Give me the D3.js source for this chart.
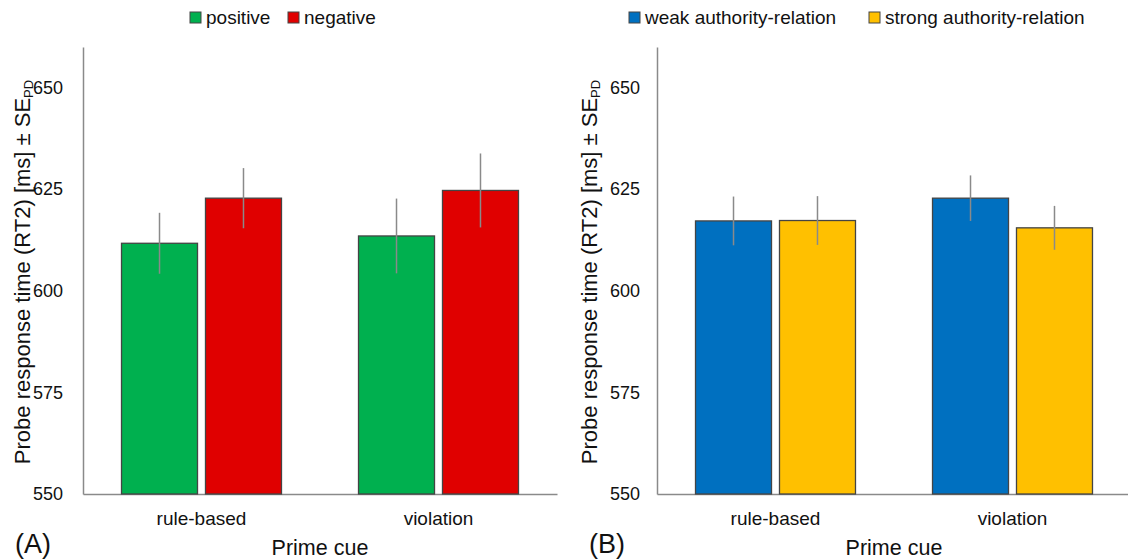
<!DOCTYPE html>
<html>
<head>
<meta charset="utf-8">
<script src="https://cdn.jsdelivr.net/npm/d3@7"></script>
<style>
  body { margin: 0; background: #fff; }
  svg text { font-family: "Liberation Sans", Arial, Helvetica, sans-serif; fill: #111; }
</style>
</head>
<body>
<svg id="chart" width="1128" height="560"></svg>
<script>
// values
let categories = ['rule-based', 'violation'];

let seriesA = ['positive', 'negative'];
let positiveVals = [611.7, 613.5];
let positiveErr = [7.5, 9.2];
let negativeVals = [622.8, 624.7];
let negativeErr = [7.4, 9.1];

let seriesB = ['weak authority-relation', 'strong authority-relation'];
let weakVals = [617.2, 622.8];
let weakErr = [6.0, 5.6];
let strongVals = [617.3, 615.5];
let strongErr = [6.0, 5.4];

let yTicks = [550, 575, 600, 625, 650];
let yDomain = [550, 660];

let svg = d3.select('#chart');

function drawPanel(opt) {
    let xScale = d3.scaleBand()
        .domain(categories)
        .range([opt.left, opt.right])
        .paddingInner(0.325)
        .paddingOuter(0.1625);

    let inner = d3.scaleBand()
        .domain(opt.series)
        .range([0, xScale.bandwidth()])
        .paddingInner(0.095);

    let yScale = d3.scaleLinear()
        .domain(yDomain)
        .range([494, 47]);

    let g = svg.append('g');

    // y axis
    let yAxis = d3.axisLeft(yScale)
        .tickValues(yTicks)
        .tickSize(0)
        .tickPadding(opt.tickPad);
    let ya = g.append('g')
        .attr('transform', 'translate(' + opt.left + ',0)')
        .call(yAxis);
    ya.select('.domain').attr('stroke', '#8a8a8a').attr('stroke-width', 1.5);
    ya.selectAll('text').style('font-size', '18px').attr('fill', '#111');

    // x axis
    let xAxis = d3.axisBottom(xScale).tickSize(0).tickPadding(18);
    let xa = g.append('g')
        .attr('transform', 'translate(0,494)')
        .call(xAxis);
    xa.select('.domain').attr('stroke', '#8a8a8a').attr('stroke-width', 1.5);
    xa.selectAll('text').style('font-size', '19px').attr('fill', '#111');

    // bars
    let rows = [];
    categories.forEach((c, i) => {
        opt.series.forEach((s, j) => {
            rows.push({cat: c, ser: s, val: opt.vals[j][i], err: opt.errs[j][i], color: opt.colors[j]});
        });
    });

    g.selectAll('rect.bar')
        .data(rows)
        .enter()
        .append('rect')
        .attr('class', 'bar')
        .attr('x', (d) => xScale(d.cat) + inner(d.ser))
        .attr('width', inner.bandwidth())
        .attr('y', (d) => yScale(d.val))
        .attr('height', (d) => yScale(yDomain[0]) - yScale(d.val))
        .attr('fill', (d) => d.color)
        .attr('stroke', '#444')
        .attr('stroke-width', 1.3);

    g.selectAll('line.err')
        .data(rows)
        .enter()
        .append('line')
        .attr('class', 'err')
        .attr('x1', (d) => xScale(d.cat) + inner(d.ser) + inner.bandwidth() / 2)
        .attr('x2', (d) => xScale(d.cat) + inner(d.ser) + inner.bandwidth() / 2)
        .attr('y1', (d) => yScale(d.val + d.err))
        .attr('y2', (d) => yScale(d.val - d.err))
        .attr('stroke', '#8a8a8a')
        .attr('stroke-width', 1.5);

    // y title
    let yt = g.append('text')
        .attr('transform', 'translate(' + opt.titleX + ',272) rotate(-90)')
        .attr('text-anchor', 'middle')
        .style('font-size', '22px');
    yt.append('tspan').text('Probe response time (RT2) [ms] \u00b1 SE');
    yt.append('tspan').attr('dy', 3).style('font-size', '13px').text('PD');

    // x title
    g.append('text')
        .attr('x', (opt.left + opt.right) / 2)
        .attr('y', 555)
        .attr('text-anchor', 'middle')
        .style('font-size', '21.5px')
        .text('Prime cue');

    // panel label
    g.append('text')
        .attr('x', opt.labelX)
        .attr('y', 553)
        .style('font-size', '27px')
        .text(opt.label);

    // legend
    let lg = g.selectAll('g.leg')
        .data(opt.series)
        .enter()
        .append('g')
        .attr('class', 'leg')
        .attr('transform', (d, i) => 'translate(' + opt.legendX[i] + ',0)');
    lg.append('rect')
        .attr('x', 0).attr('y', 12)
        .attr('width', 11).attr('height', 11)
        .attr('fill', (d, i) => opt.colors[i])
        .attr('stroke', '#444')
        .attr('stroke-width', 1);
    lg.append('text')
        .attr('x', 16)
        .attr('y', 24)
        .style('font-size', '19px')
        .text((d) => d);
}

drawPanel({
    left: 83, right: 557,
    series: seriesA,
    vals: [positiveVals, negativeVals],
    errs: [positiveErr, negativeErr],
    colors: ['#00b04f', '#e00000'],
    tickPad: 20,
    titleX: 30,
    label: '(A)', labelX: 15,
    legendX: [190, 288]
});

drawPanel({
    left: 657, right: 1131,
    series: seriesB,
    vals: [weakVals, strongVals],
    errs: [weakErr, strongErr],
    colors: ['#0070c0', '#ffc000'],
    tickPad: 17,
    titleX: 597,
    label: '(B)', labelX: 589,
    legendX: [629, 869]
});
</script>
</body>
</html>
